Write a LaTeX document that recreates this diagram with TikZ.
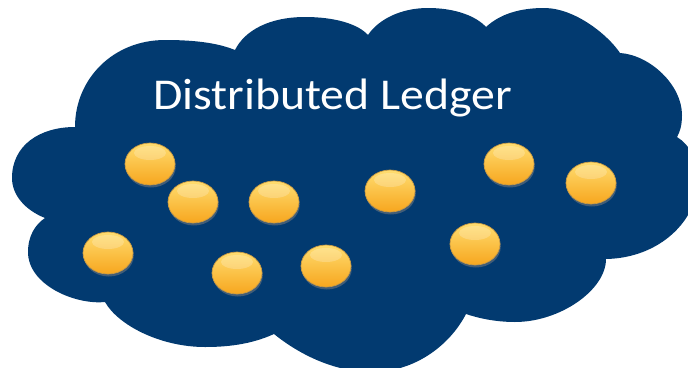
\documentclass[tikz,border=0pt]{standalone}
\usepackage{fontspec}
\setmainfont{Carlito}
\usepackage{xcolor}
\usepackage{tikz}
\usetikzlibrary{shapes.geometric,shadows}
\definecolor{ledgerblue}{RGB}{2,58,112}
\definecolor{coinlight}{RGB}{255,221,112}
\definecolor{coinmid}{RGB}{255,199,70}
\definecolor{coindark}{RGB}{247,166,30}
\definecolor{coinrim}{RGB}{190,130,20}

\begin{document}
\begin{tikzpicture}[
        x=1pt, y=-1pt,
        coin/.style={ellipse, draw=coinrim!80, line width=0.7pt,
            top color=coinlight, middle color=coinmid, bottom color=coindark,
            minimum width=50pt, minimum height=42pt, inner sep=0pt,
            path picture={\fill[white, opacity=0.22]
                ([yshift=-10pt]path picture bounding box.north)
                ellipse [x radius=16pt, y radius=7pt];},
            drop shadow={shadow xshift=0.8pt, shadow yshift=-2.5pt, opacity=0.5}},
        title/.style={anchor=base west, inner sep=0pt, text=white,
            font=\fontsize{44}{44}\selectfont, transform shape, xscale=1.085}
    ]
        \useasboundingbox (0,0) rectangle (688,367);
        \clip (0,0) rectangle (688,367);
        % the cloud, lobe by lobe
        \fill[ledgerblue] (75,127)
            .. controls (75,79) and (113,40) .. (165,40)
            .. controls (200,40) and (220,44) .. (235,50)
            .. controls (245,30) and (270,17) .. (305,17)
            .. controls (335,17) and (358,24) .. (368,35)
            .. controls (378,20) and (400,8) .. (428,8)
            .. controls (455,8) and (476,16) .. (486,27)
            .. controls (500,14) and (520,8) .. (544,8)
            .. controls (575,8) and (608,35) .. (620,53)
            .. controls (650,55) and (682,85) .. (682,115)
            .. controls (682,125) and (680,132) .. (677,137)
            .. controls (690,145) and (698,160) .. (698,180)
            .. controls (698,220) and (660,258) .. (606,259)
            .. controls (606,290) and (560,322) .. (515,322)
            .. controls (495,322) and (478,318) .. (466,314)
            .. controls (450,345) and (415,372) .. (372,372)
            .. controls (335,372) and (300,355) .. (274,334)
            .. controls (250,345) and (225,347) .. (205,347)
            .. controls (160,347) and (118,325) .. (105,302)
            .. controls (75,305) and (28,285) .. (28,252)
            .. controls (28,235) and (36,224) .. (45,218)
            .. controls (25,210) and (12,195) .. (12,178)
            .. controls (12,145) and (40,127) .. (75,127)
            -- cycle;
        \node[title] (title) at (153,109) {Distributed Ledger};
        % the coins
        \node[coin] (c1) at (150,164) {};
        \node[coin] (c2) at (193,202) {};
        \node[coin] (c3) at (274,202) {};
        \node[coin] (c4) at (390,191) {};
        \node[coin] (c5) at (509,164) {};
        \node[coin] (c6) at (591,183) {};
        \node[coin] (c7) at (108,253) {};
        \node[coin] (c8) at (237,273) {};
        \node[coin] (c9) at (326,266) {};
        \node[coin] (c10) at (475,244) {};
    \end{tikzpicture}
\end{document}
